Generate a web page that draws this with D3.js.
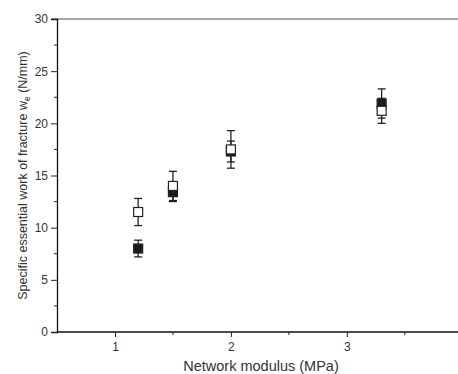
<!DOCTYPE html>
<html>
<head>
<meta charset="utf-8">
<script src="https://cdn.jsdelivr.net/npm/d3@7"></script>
<style>
  body { margin: 0; background: #fff; }
  svg { display: block; font-family: "Liberation Sans", Arial, sans-serif; }
</style>
</head>
<body>
<div id="plot"></div>
<script>
// network modulus (MPa)
const modulus = [1.2, 1.5, 2.0, 3.3];

// open squares
const openVals = [11.5, 14.0, 17.5, 21.2];
const openErr = [1.3, 1.4, 1.8, 1.2];

// filled squares
const filledVals = [8.0, 13.4, 17.3, 21.9];
const filledErr = [0.8, 0.9, 1.0, 1.4];

const xTicks = [1, 2, 3];
const yTicks = [0, 5, 10, 15, 20, 25, 30];

const width = 458, height = 374;
const margin = { top: 19, right: 0, bottom: 42, left: 57 };

const svg = d3.select("#plot").append("svg")
    .attr("width", width)
    .attr("height", height);

const x = d3.scaleLinear().domain([0.5, 3.95]).range([margin.left, width - 1]);
const y = d3.scaleLinear().domain([0, 30]).range([height - margin.bottom, margin.top]);

// top frame line
svg.append("line")
    .attr("x1", margin.left - 6).attr("x2", width)
    .attr("y1", y(30)).attr("y2", y(30))
    .attr("stroke", "#888").attr("stroke-width", 1.3);

// x axis
const xAxis = svg.append("g")
    .attr("transform", `translate(0,${y(0)})`)
    .call(d3.axisBottom(x).tickValues(xTicks).tickFormat(d3.format("d")).tickSize(5).tickPadding(5));
xAxis.append("g").selectAll("line")
    .data([1.5, 2.5, 3.5])
    .join("line")
    .attr("x1", d => x(d)).attr("x2", d => x(d))
    .attr("y1", 0).attr("y2", 3)
    .attr("stroke", "#222");

// y axis
const yAxis = svg.append("g")
    .attr("transform", `translate(${margin.left},0)`)
    .call(d3.axisLeft(y).tickValues(yTicks).tickSize(6).tickPadding(3));
yAxis.append("g").selectAll("line")
    .data([2.5, 7.5, 12.5, 17.5, 22.5, 27.5])
    .join("line")
    .attr("y1", d => y(d)).attr("y2", d => y(d))
    .attr("x1", 0).attr("x2", -3)
    .attr("stroke", "#222");

svg.selectAll(".domain").attr("stroke", "#111").attr("stroke-width", 1.3);
svg.selectAll(".tick line").attr("stroke", "#222");
svg.selectAll(".tick text").attr("font-size", 12).attr("fill", "#333")
    .attr("font-family", "Liberation Sans, Arial, sans-serif");
xAxis.select(".domain").attr("d", `M${margin.left},0H${width}`);

// axis titles
svg.append("text")
    .attr("x", 261).attr("y", 371)
    .attr("text-anchor", "middle")
    .attr("font-size", 14.5).attr("fill", "#333")
    .text("Network modulus (MPa)");

const yTitle = svg.append("text")
    .attr("transform", `translate(27,${(y(0) + y(30)) / 2}) rotate(-90)`)
    .attr("text-anchor", "middle")
    .attr("font-size", 12.5).attr("fill", "#333");
yTitle.append("tspan").text("Specific essential work of fracture w");
yTitle.append("tspan").attr("font-size", 8.5).attr("dy", 3).text("e");
yTitle.append("tspan").attr("dy", -3).text(" (N/mm)");

// error bars + markers
function drawSeries(vals, errs, fill) {
    const g = svg.append("g");
    const data = modulus.map((m, i) => ({ m, v: vals[i], e: errs[i] }));
    const bars = g.selectAll("g.err").data(data).join("g").attr("stroke", "#222").attr("stroke-width", 1.3);
    bars.append("line")
        .attr("x1", d => x(d.m)).attr("x2", d => x(d.m))
        .attr("y1", d => y(d.v - d.e)).attr("y2", d => y(d.v + d.e));
    bars.append("line")
        .attr("x1", d => x(d.m) - 4).attr("x2", d => x(d.m) + 4)
        .attr("y1", d => y(d.v + d.e)).attr("y2", d => y(d.v + d.e));
    bars.append("line")
        .attr("x1", d => x(d.m) - 4).attr("x2", d => x(d.m) + 4)
        .attr("y1", d => y(d.v - d.e)).attr("y2", d => y(d.v - d.e));
    g.selectAll("rect").data(data).join("rect")
        .attr("x", d => x(d.m) - 4.5).attr("y", d => y(d.v) - 4.5)
        .attr("width", 9).attr("height", 9)
        .attr("fill", fill)
        .attr("stroke", "#222").attr("stroke-width", 1.2);
}

drawSeries(filledVals, filledErr, "#1a1a1a");
drawSeries(openVals, openErr, "#fff");
</script>
</body>
</html>
